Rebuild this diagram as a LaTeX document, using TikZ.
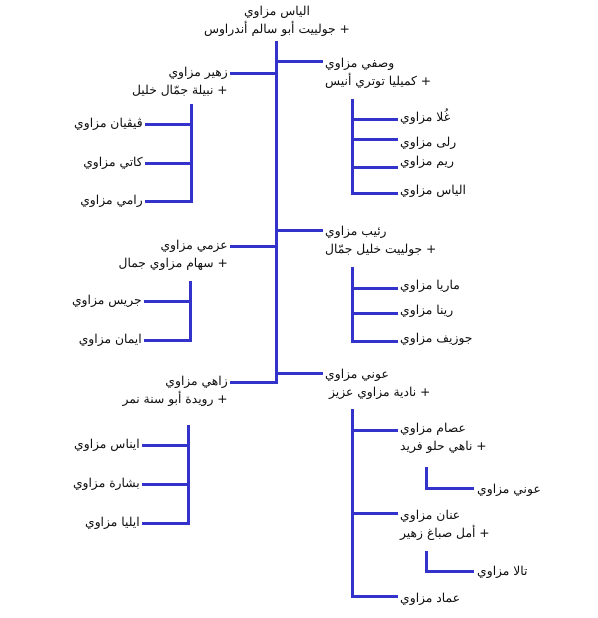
\documentclass[tikz,border=0pt]{standalone}
\usepackage{fontspec}
\newfontfamily\arabicfont[Script=Arabic]{DejaVu Sans}
\TeXXeTstate=1
\usetikzlibrary{positioning, calc}
\definecolor{TreeBlue}{RGB}{51,51,204}
\definecolor{TreeInk}{RGB}{15,15,15}
\newcommand{\rtl}[1]{\beginR #1\endR}

\begin{document}
\begin{tikzpicture}[x=1pt, y=-1pt,
    link/.style={TreeBlue, line width=3pt, line cap=rect},
    who/.style={font=\arabicfont\fontsize{12.3}{18}\selectfont, TreeInk, inner sep=0pt},
    leftwho/.style={who, align=right, anchor=base east},
    rightwho/.style={who, align=left, anchor=base west}]
  \useasboundingbox (0,0) rectangle (597,618);

  % Root couple and trunk (base = last line)
  \node[who, align=center, anchor=base] (root) at (277,34)
        {\rtl{الياس مزاوي}\\\rtl{+ جولييت أبو سالم أندراوس}};
  \coordinate (trunktop) at (276,43);
  \coordinate (trunkbot) at (276,382);
  \draw[link] (trunktop) -- (trunkbot);

  % Sons on the right of the trunk
  \foreach \name/\y/\first/\second in {
    wasfi/62/وصفي مزاوي/+ كميليا توتري أنيس,
    ratib/230/رئيب مزاوي/+ جولييت خليل جمّال,
    awni/373/عوني مزاوي/+ نادية مزاوي عزيز
  } {
    \node[rightwho] (\name) at (325,{\y+23}) {\rtl{\first}\\\rtl{\second}};
    \coordinate (\name-in) at (321,\y);
    \draw[link] (\name-in) -- (\name-in -| trunktop);
  }

  % Sons on the left of the trunk
  \foreach \name/\y/\first/\second in {
    zuhair/73/زهير مزاوي/+ نبيلة جمّال خليل,
    azmi/246/عزمي مزاوي/+ سهام مزاوي جمال,
    zahi/382/زاهي مزاوي/+ رويدة أبو سنة نمر
  } {
    \node[leftwho] (\name) at (228,{\y+21}) {\rtl{\first}\\\rtl{\second}};
    \coordinate (\name-in) at (231,\y);
    \draw[link] (\name-in) -- (\name-in -| trunktop);
  }

  % Children of Zuhair
  \coordinate (zuhair-bar) at (191,105);
  \draw[link] (zuhair-bar) -- ++(0,96);
  \foreach \kid/\y/\txt in {vivian/124/ڤيڤيان مزاوي, kati/163/كاتي مزاوي,
                            rami/201/رامي مزاوي} {
    \node[leftwho] (\kid) at (143,{\y+3}) {\rtl{\txt}};
    \coordinate (\kid-in) at (146,\y);
    \draw[link] (\kid-in) -- (\kid-in -| zuhair-bar);
  }

  % Children of Azmi
  \coordinate (azmi-bar) at (190,282);
  \draw[link] (azmi-bar) -- ++(0,58);
  \foreach \kid/\y/\txt in {jiries/301/جريس مزاوي, iman/340/ايمان مزاوي} {
    \node[leftwho] (\kid) at (142,{\y+3}) {\rtl{\txt}};
    \coordinate (\kid-in) at (145,\y);
    \draw[link] (\kid-in) -- (\kid-in -| azmi-bar);
  }

  % Children of Zahi
  \coordinate (zahi-bar) at (188,426);
  \draw[link] (zahi-bar) -- ++(0,97);
  \foreach \kid/\y/\txt in {inas/445/ايناس مزاوي, bishara/484/بشارة مزاوي,
                            elia/523/ايليا مزاوي} {
    \node[leftwho] (\kid) at (140,{\y+3}) {\rtl{\txt}};
    \coordinate (\kid-in) at (143,\y);
    \draw[link] (\kid-in) -- (\kid-in -| zahi-bar);
  }

  % Children of Wasfi
  \coordinate (wasfi-bar) at (352,100);
  \draw[link] (wasfi-bar) -- ++(0,93);
  \foreach \kid/\y/\ty/\txt in {ghula/119/116/غُلا مزاوي, rula/139/141/رلى مزاوي,
                                reem/167/160/ريم مزاوي, elias/193/189/الياس مزاوي} {
    \node[rightwho] (\kid) at (400,{\ty+5}) {\rtl{\txt}};
    \coordinate (\kid-in) at (396,\y);
    \draw[link] (\kid-in) -- (\kid-in -| wasfi-bar);
  }

  % Children of Ratib
  \coordinate (ratib-bar) at (352,268);
  \draw[link] (ratib-bar) -- ++(0,73);
  \foreach \kid/\y/\txt in {maria/288/ماريا مزاوي, rina/313/رينا مزاوي,
                            joseph/341/جوزيف مزاوي} {
    \node[rightwho] (\kid) at (400,{\y+1}) {\rtl{\txt}};
    \coordinate (\kid-in) at (396,\y);
    \draw[link] (\kid-in) -- (\kid-in -| ratib-bar);
  }

  % Children of Awni
  \coordinate (awni-bar) at (352,410);
  \draw[link] (awni-bar) -- ++(0,186);
  \node[rightwho] (isam) at (400,450) {\rtl{عصام مزاوي}\\\rtl{+ ناهي حلو فريد}};
  \node[rightwho] (annan) at (400,537) {\rtl{عنان مزاوي}\\\rtl{+ أمل صباغ زهير}};
  \node[rightwho] (imad) at (400,602) {\rtl{عماد مزاوي}};
  \foreach \kid/\y in {isam/430, annan/513, imad/596} {
    \coordinate (\kid-in) at (396,\y);
    \draw[link] (\kid-in) -- (\kid-in -| awni-bar);
  }

  % Grandchildren
  \node[rightwho] (awni2) at (477,493) {\rtl{عوني مزاوي}};
  \coordinate (awni2-in) at (472,488);
  \draw[link] (426,468) coordinate (isam-bar) -- (isam-bar |- awni2-in) -- (awni2-in);
  \node[rightwho] (tala) at (477,575) {\rtl{تالا مزاوي}};
  \coordinate (tala-in) at (472,571);
  \draw[link] (426,552) coordinate (annan-bar) -- (annan-bar |- tala-in) -- (tala-in);
\end{tikzpicture}
\end{document}
